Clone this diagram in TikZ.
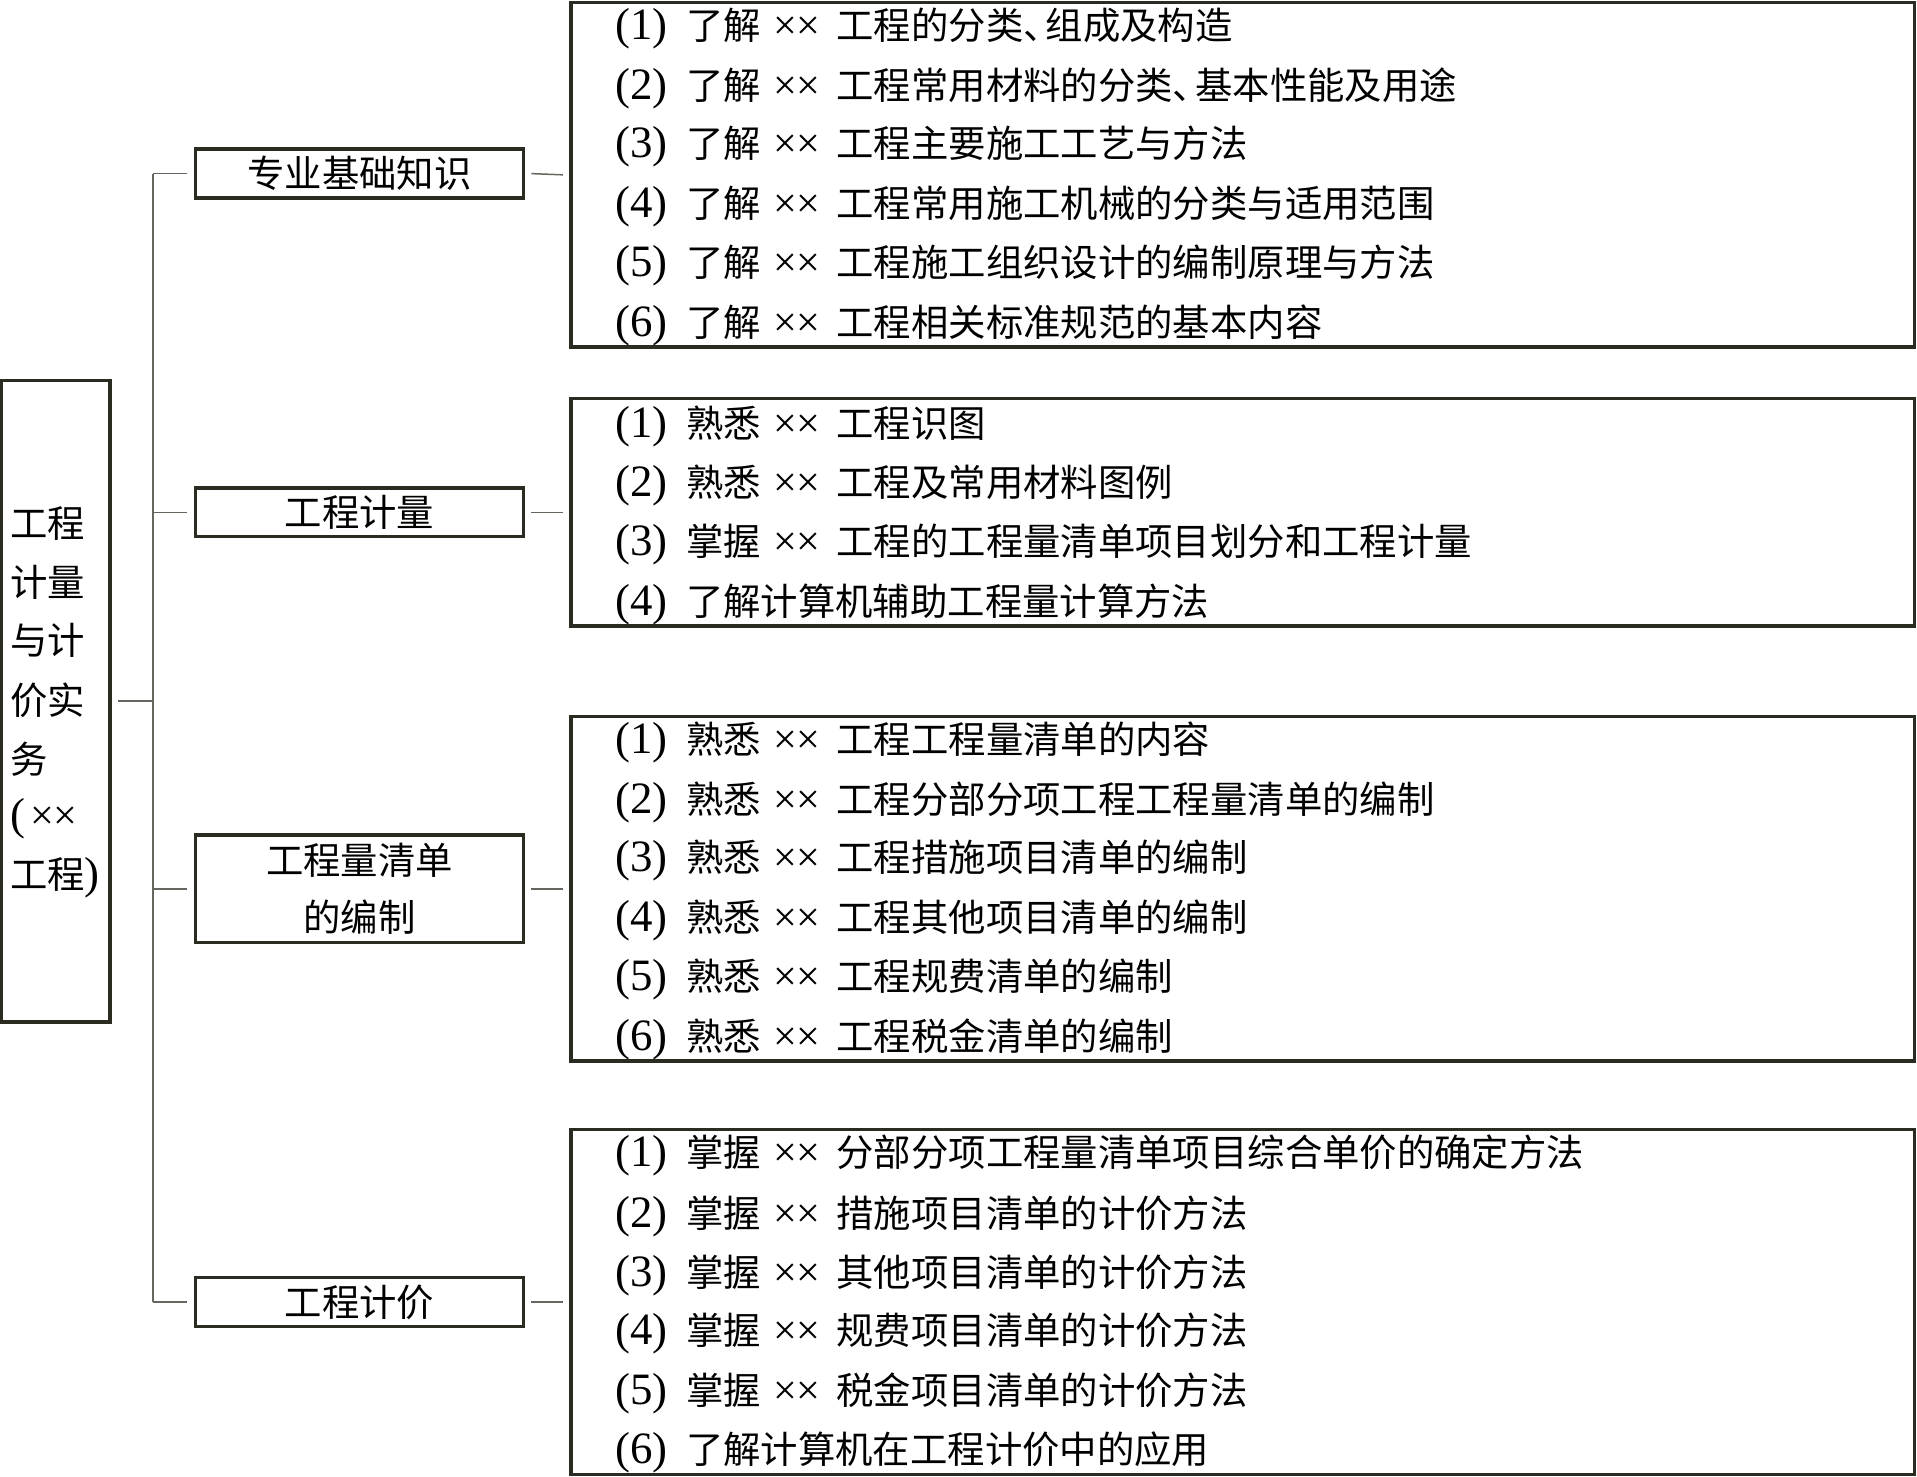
\documentclass[tikz,border=0pt]{standalone}
\usepackage{fontspec}
\setmainfont{Noto Sans CJK SC}
\newfontfamily\lat{Liberation Serif}[Scale=1.2]
\newfontfamily\latx{Liberation Serif}[Scale=1.13]
\usepackage{tikz}
\usetikzlibrary{positioning}
\definecolor{boxcol}{HTML}{2B2B22}
\definecolor{linkcol}{HTML}{66665E}
\newcommand\ino[1]{{\lat(#1)}\hspace{0.3cm}}
\newcommand\xx{\hspace{0.2cm}{\latx ××}\hspace{0.26cm}}
\tikzset{
  box/.style={draw=boxcol, line width=1.6pt, inner sep=0pt},
  link/.style={draw=linkcol, line width=0.7pt},
  txt/.style={anchor=west, inner sep=0pt},
}

\begin{document}
\begin{tikzpicture}[x=0.02cm, y=-0.02cm, font=\fontsize{17.4pt}{26.7pt}\selectfont]
    \useasboundingbox (0,0) rectangle (1568,1208);
    % root
    \node[box, minimum width=1.78cm, minimum height=10.5cm] (root) at (45.5,573.5) {};
    \node[txt] (r1) at (8,428) {工程};
    \node[txt] (r2) at (8,476) {计量};
    \node[txt] (r3) at (8,524) {与计};
    \node[txt] (r4) at (8,573) {价实};
    \node[txt] (r5) at (8,621) {务};
    \node[txt] (r6) at (8,670) {{\lat(}\hspace{0.08cm}{\latx ××}};
    \node[txt] (r7) at (8,718) {工程{\lat)}};
    % second level
    \node[box, minimum width=5.36cm, minimum height=0.8cm] (zy) at (294,142) {专业基础知识};
    \node[box, minimum width=5.36cm, minimum height=0.8cm] (jl) at (294,419) {工程计量};
    \node[box, minimum width=5.36cm, minimum height=1.76cm, align=center] (qd) at (294,727) {工程量清单\\的编制};
    \node[box, minimum width=5.36cm, minimum height=0.8cm] (jj) at (294,1065) {工程计价};
    % third level
    \node[box, minimum width=21.98cm, minimum height=5.64cm] (lA) at (1016.5,143) {};
    \node[box, minimum width=21.98cm, minimum height=3.72cm] (lB) at (1016.5,419) {};
    \node[box, minimum width=21.98cm, minimum height=5.64cm] (lC) at (1016.5,727) {};
    \node[box, minimum width=21.98cm, minimum height=5.64cm] (lD) at (1016.5,1065) {};
    \node[txt] (a1) at (503,23) {\ino{1}了解\xx 工程的分类、\kern-.4em 组成及构造};
    \node[txt] (a2) at (503,72) {\ino{2}了解\xx 工程常用材料的分类、\kern-.4em 基本性能及用途};
    \node[txt] (a3) at (503,120) {\ino{3}了解\xx 工程主要施工工艺与方法};
    \node[txt] (a4) at (503,169) {\ino{4}了解\xx 工程常用施工机械的分类与适用范围};
    \node[txt] (a5) at (503,217) {\ino{5}了解\xx 工程施工组织设计的编制原理与方法};
    \node[txt] (a6) at (503,266) {\ino{6}了解\xx 工程相关标准规范的基本内容};
    \node[txt] (b1) at (503,349) {\ino{1}熟悉\xx 工程识图};
    \node[txt] (b2) at (503,397) {\ino{2}熟悉\xx 工程及常用材料图例};
    \node[txt] (b3) at (503,445) {\ino{3}掌握\xx 工程的工程量清单项目划分和工程计量};
    \node[txt] (b4) at (503,494) {\ino{4}了解计算机辅助工程量计算方法};
    \node[txt] (c1) at (503,607) {\ino{1}熟悉\xx 工程工程量清单的内容};
    \node[txt] (c2) at (503,656) {\ino{2}熟悉\xx 工程分部分项工程工程量清单的编制};
    \node[txt] (c3) at (503,704) {\ino{3}熟悉\xx 工程措施项目清单的编制};
    \node[txt] (c4) at (503,753) {\ino{4}熟悉\xx 工程其他项目清单的编制};
    \node[txt] (c5) at (503,801) {\ino{5}熟悉\xx 工程规费清单的编制};
    \node[txt] (c6) at (503,850) {\ino{6}熟悉\xx 工程税金清单的编制};
    \node[txt] (d1) at (503,945) {\ino{1}掌握\xx 分部分项工程量清单项目综合单价的确定方法};
    \node[txt] (d2) at (503,995) {\ino{2}掌握\xx 措施项目清单的计价方法};
    \node[txt] (d3) at (503,1043) {\ino{3}掌握\xx 其他项目清单的计价方法};
    \node[txt] (d4) at (503,1091) {\ino{4}掌握\xx 规费项目清单的计价方法};
    \node[txt] (d5) at (503,1140) {\ino{5}掌握\xx 税金项目清单的计价方法};
    \node[txt] (d6) at (503,1188) {\ino{6}了解计算机在工程计价中的应用};
    % connectors
    \coordinate (sp) at (125,573.5);
    \draw[link] ([xshift=3pt]root.east) -- (root.east -| sp);
    \draw[link] (sp |- zy.west) -- (sp |- jj.west);
    \draw[link] (sp |- zy.west) -- ([xshift=-3pt]zy.west);
    \draw[link] (sp |- jl.west) -- ([xshift=-3pt]jl.west);
    \draw[link] (sp |- qd.west) -- ([xshift=-3pt]qd.west);
    \draw[link] (sp |- jj.west) -- ([xshift=-3pt]jj.west);
    \draw[link] ([xshift=3pt]zy.east) -- ([xshift=-3pt]lA.west);
    \draw[link] ([xshift=3pt]jl.east) -- ([xshift=-3pt]lB.west);
    \draw[link] ([xshift=3pt]qd.east) -- ([xshift=-3pt]lC.west);
    \draw[link] ([xshift=3pt]jj.east) -- ([xshift=-3pt]lD.west);
\end{tikzpicture}
\end{document}
